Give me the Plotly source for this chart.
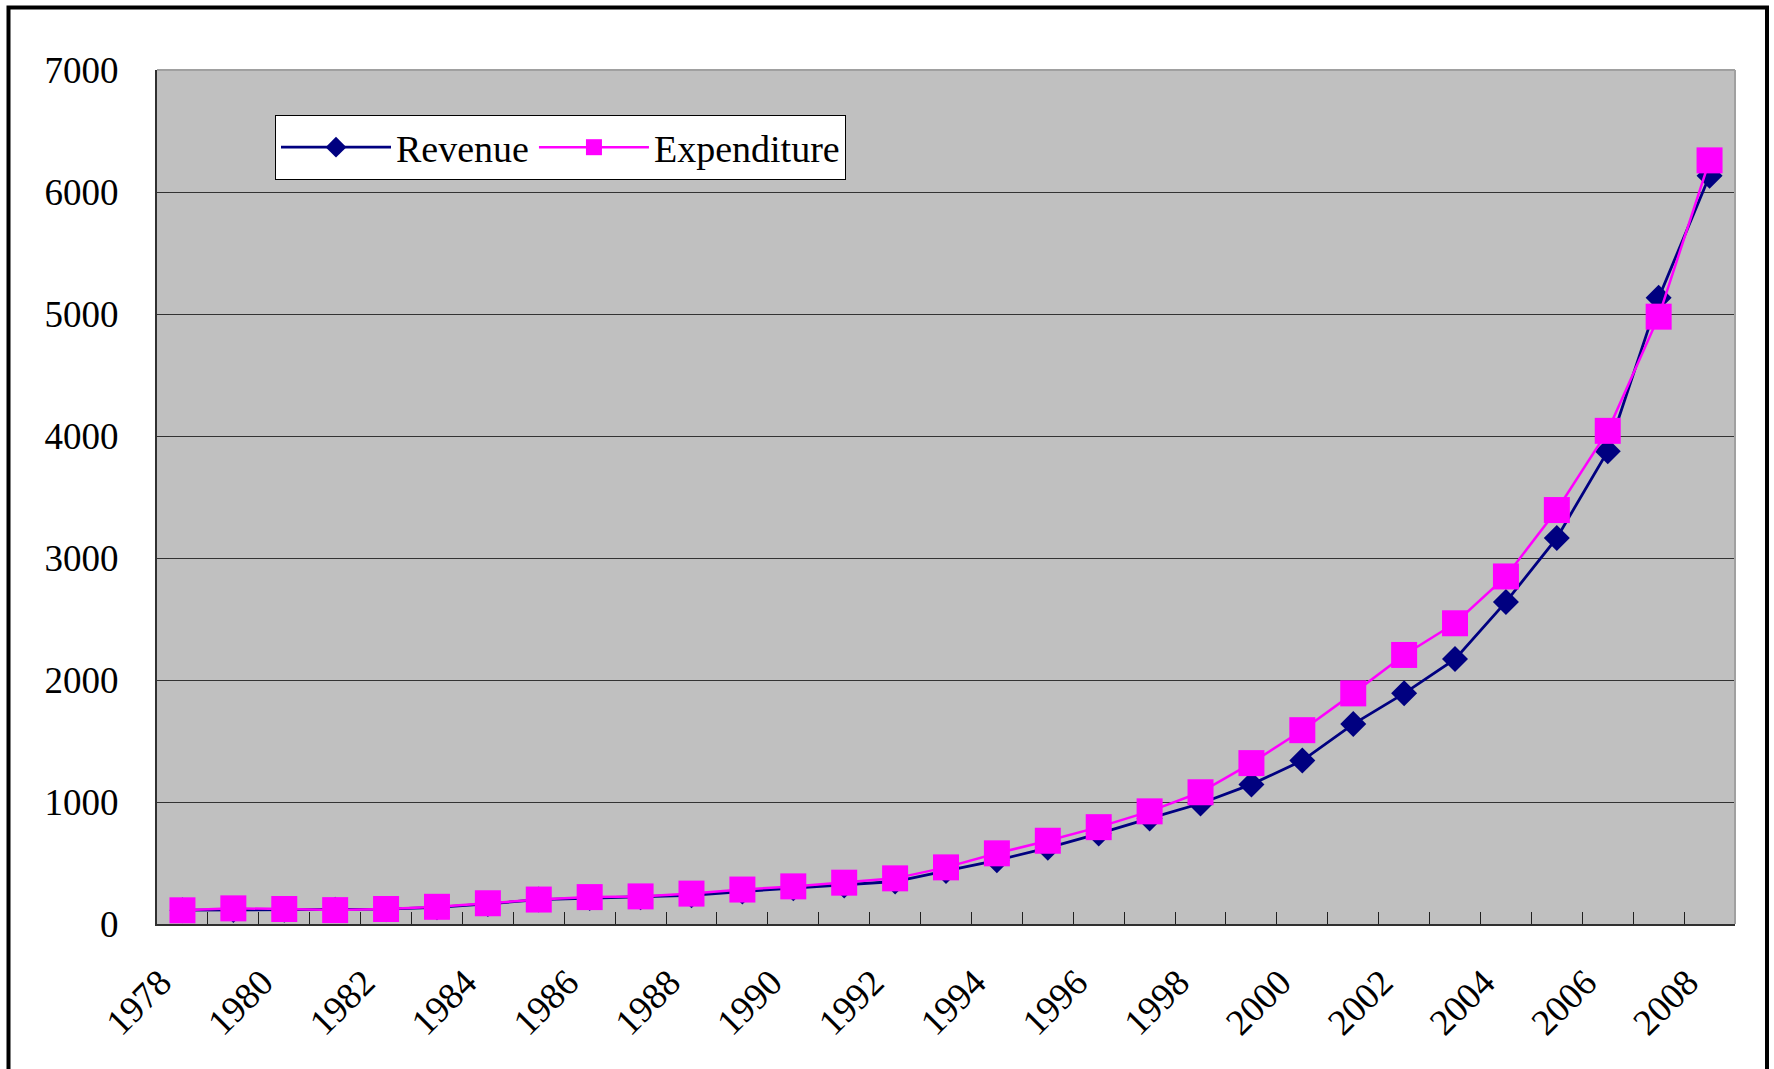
import plotly.graph_objects as go

years = list(range(1978, 2009))
revenue = [113.2, 114.6, 116.0, 117.6, 121.2, 136.7, 164.3, 200.5, 212.2, 219.9,
           235.7, 266.5, 293.7, 314.9, 348.3, 434.9, 521.8, 624.2, 740.8, 865.1,
           987.6, 1144.4, 1339.5, 1638.6, 1890.4, 2171.5, 2639.6, 3164.9, 3876.0,
           5132.2, 6133.0]
expenditure = [112.2, 128.2, 122.9, 113.8, 123.0, 141.0, 170.1, 200.4, 220.5, 226.2,
               249.1, 282.4, 308.4, 338.7, 374.2, 464.2, 579.3, 682.4, 793.8, 923.4,
               1079.8, 1318.8, 1588.7, 1890.3, 2205.3, 2465.0, 2848.7, 3393.0, 4042.3,
               4978.1, 6259.3]
tick_years = [1978, 1980, 1982, 1984, 1986, 1988, 1990, 1992, 1994, 1996, 1998,
              2000, 2002, 2004, 2006, 2008]
y_ticks = [0, 1000, 2000, 3000, 4000, 5000, 6000, 7000]

W, H = 1774, 1069
L, R, T, B = 157, 39, 70, 145
FONT = "Liberation Serif"
pw = W - L - R
ph = H - T - B


def px_x(v):
    return (v - L) / pw


def px_y(v):
    return (H - B - v) / ph


fig = go.Figure()
fig.add_trace(go.Scatter(
    x=years, y=revenue, name="Revenue", mode="lines+markers",
    line=dict(color="#000080", width=2.8),
    marker=dict(symbol="diamond", size=20, color="#000080"),
))
fig.add_trace(go.Scatter(
    x=years, y=expenditure, name="Expenditure", mode="lines+markers",
    line=dict(color="#FF00FF", width=2.5),
    marker=dict(symbol="square", size=26, color="#FF00FF"),
))
# invisible trace to carry category-boundary ticks
fig.add_trace(go.Scatter(x=[years[0]], y=[None], xaxis="x2", showlegend=False,
                         hoverinfo="skip"))

fig.update_layout(
    width=W, height=H,
    margin=dict(l=L, r=R, t=T, b=B),
    paper_bgcolor="white",
    plot_bgcolor="#C0C0C0",
    font=dict(family=FONT, size=36, color="black"),
    showlegend=True,
    legend=dict(
        orientation="h",
        x=px_x(275), y=px_y(115),
        xanchor="left", yanchor="top",
        bgcolor="white", bordercolor="black", borderwidth=1,
        font=dict(family=FONT, size=38, color="black"),
        itemwidth=110,
    ),
    xaxis=dict(
        range=[years[0] - 0.5, years[-1] + 0.5],
        tickmode="array", tickvals=tick_years,
        ticktext=[str(v) for v in tick_years],
        tickangle=-45, ticks="", showgrid=False, zeroline=False,
        showline=True, linecolor="#303030", linewidth=2,
        ticklabelstandoff=20, ticklabelshift=-22,
        tickfont=dict(family=FONT, size=37),
    ),
    xaxis2=dict(
        overlaying="x", anchor="y", side="bottom",
        range=[years[0] - 0.5, years[-1] + 0.5],
        tickmode="array",
        tickvals=[y - 0.5 for y in years] + [years[-1] + 0.5],
        ticks="inside", ticklen=12, tickcolor="#202020", tickwidth=1,
        showticklabels=False, showgrid=False, zeroline=False,
    ),
    yaxis=dict(
        range=[0, 7000], tickmode="array", tickvals=y_ticks,
        ticktext=[str(v) for v in y_ticks],
        showgrid=True, gridcolor="#333333", gridwidth=1,
        zeroline=False, showline=True, linecolor="#303030", linewidth=2,
        ticks="inside", ticklen=12, tickcolor="#303030", tickwidth=1,
        ticklabelstandoff=29,
        tickfont=dict(family=FONT, size=37),
    ),
    shapes=[
        dict(type="line", xref="paper", yref="paper", x0=0, x1=1, y0=1, y1=1,
             line=dict(color="#A0A0A0", width=2)),
        dict(type="line", xref="paper", yref="paper", x0=1, x1=1, y0=0, y1=1,
             line=dict(color="#A0A0A0", width=2)),
        dict(type="rect", xref="paper", yref="paper",
             x0=px_x(8.5), x1=px_x(1767),
             y0=px_y(1090), y1=px_y(7.5),
             line=dict(color="black", width=4), fillcolor="rgba(0,0,0,0)"),
    ],
)

fig.write_html("out.html",
               config={"displayModeBar": False},
               post_script="document.body.style.margin='0';"
                           "document.body.style.overflow='hidden';")
